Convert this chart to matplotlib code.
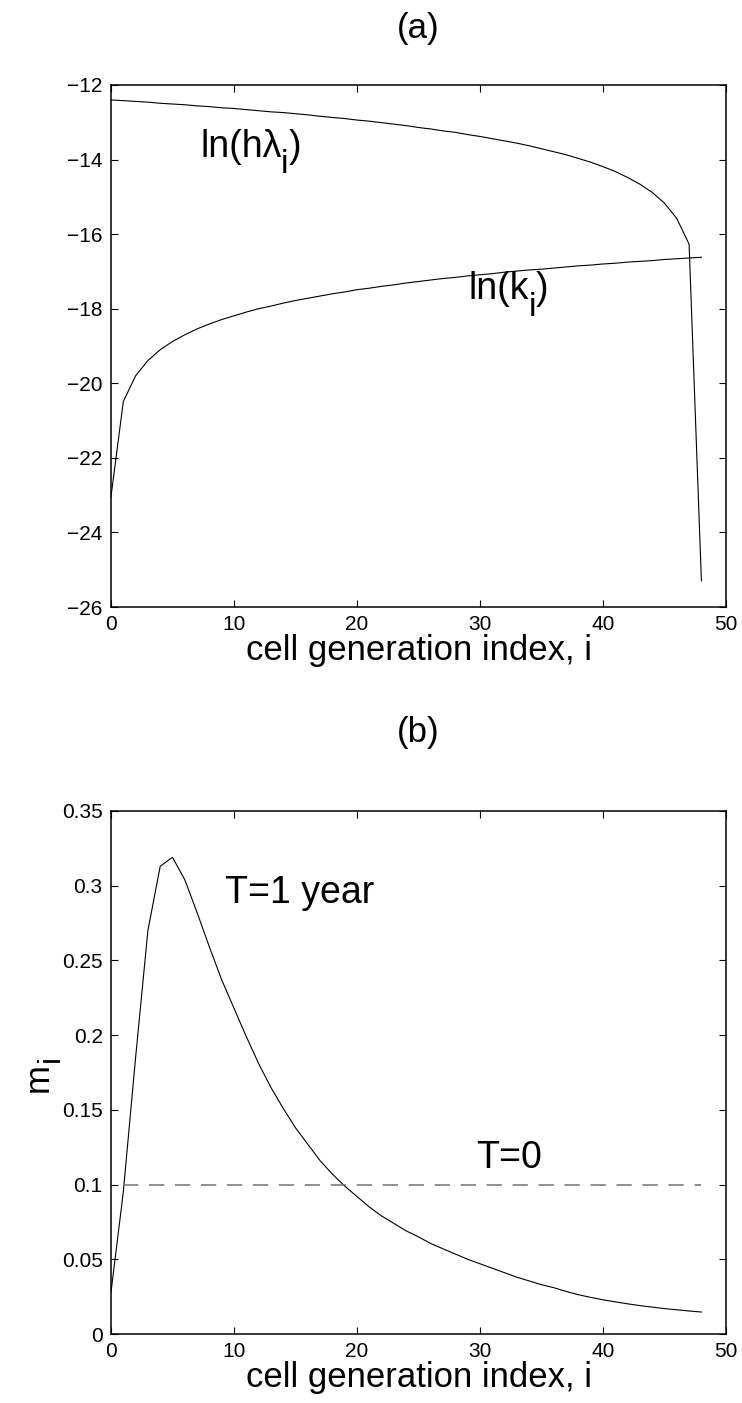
import numpy as np
import matplotlib
matplotlib.use('Agg')
import matplotlib.pyplot as plt
from matplotlib import transforms

plt.rcParams['font.family'] = 'Liberation Sans'

# cell generation index
gen = list(range(49))

# panel (a): ln(h*lambda_i)
ln_h_lambda = [-12.40, -12.42, -12.44, -12.46, -12.49, -12.51, -12.53, -12.56, -12.58, -12.61,
               -12.63, -12.66, -12.69, -12.72, -12.74, -12.77, -12.80, -12.84, -12.87, -12.90,
               -12.94, -12.97, -13.01, -13.05, -13.09, -13.14, -13.18, -13.23, -13.27, -13.33,
               -13.38, -13.44, -13.50, -13.56, -13.63, -13.71, -13.79, -13.87, -13.97, -14.07,
               -14.19, -14.32, -14.48, -14.66, -14.88, -15.17, -15.58, -16.27, -25.30]

# panel (a): ln(k_i)
ln_k = [-23.04, -20.49, -19.80, -19.39, -19.10, -18.88, -18.70, -18.54, -18.41, -18.29,
        -18.19, -18.09, -18.00, -17.93, -17.85, -17.78, -17.72, -17.66, -17.60, -17.55,
        -17.49, -17.45, -17.40, -17.36, -17.31, -17.27, -17.23, -17.19, -17.16, -17.12,
        -17.09, -17.06, -17.02, -16.99, -16.96, -16.94, -16.91, -16.88, -16.85, -16.83,
        -16.80, -16.78, -16.75, -16.73, -16.71, -16.68, -16.66, -16.64, -16.62]

# panel (b): m_i after T=1 year
m_1year = [0.028, 0.095, 0.185, 0.270, 0.313, 0.319, 0.304, 0.282, 0.259, 0.237,
           0.218, 0.199, 0.181, 0.165, 0.151, 0.138, 0.127, 0.116, 0.107, 0.099,
           0.092, 0.085, 0.079, 0.074, 0.069, 0.065, 0.0605, 0.057, 0.0535, 0.050,
           0.047, 0.044, 0.041, 0.038, 0.0355, 0.033, 0.031, 0.0285, 0.0263, 0.0245,
           0.0229, 0.0215, 0.0202, 0.019, 0.018, 0.017, 0.0162, 0.0154, 0.0147]

# panel (b): m_i at T=0 (uniform)
gen_t0 = [1, 48]
m_t0 = [0.1, 0.1]

W, H = 742, 1403
fig = plt.figure(figsize=(W / 100, H / 100), dpi=100)
renderer = fig.canvas.get_renderer()

BIG = 25   # titles and axis labels
NOTE = 27  # curve annotations


def box(l, t, r, b):
    return [l / W, 1 - b / H, (r - l) / W, (b - t) / H]


def style(ax):
    ax.tick_params(direction='in', top=True, right=True, length=5, width=0.8,
                   labelsize=15, pad=6)
    for s in ax.spines.values():
        s.set_linewidth(1.1)
    ax.set_xlim(0, 50)
    ax.set_xticks([0, 10, 20, 30, 40, 50])
    ax.set_xlabel('cell generation index, i', fontsize=BIG, labelpad=0)


def sub_label(ax, x, y, main, sub, tail, size=NOTE):
    # matlab-like subscript: almost full size and dropped below the baseline
    t1 = ax.text(x, y, main, fontsize=size, va='baseline')
    w1 = t1.get_window_extent(renderer).width
    drop = 0.45 * size * fig.dpi / 72
    tr = transforms.offset_copy(ax.transData, fig=fig, x=w1 - 1, y=-drop, units='dots')
    t2 = ax.text(x, y, sub, fontsize=size * 0.9, va='baseline', transform=tr)
    w2 = t2.get_window_extent(renderer).width
    tr = transforms.offset_copy(ax.transData, fig=fig, x=w1 + w2 - 1, y=0, units='dots')
    ax.text(x, y, tail, fontsize=size, va='baseline', transform=tr)


ax1 = fig.add_axes(box(111, 85, 726, 607))
ax1.plot(gen, ln_h_lambda, color='black', lw=0.8)
ax1.plot(gen, ln_k, color='black', lw=0.8)
ax1.set_ylim(-26, -12)
ax1.set_yticks(np.arange(-26, -11, 2))
style(ax1)
ax1.set_title('(a)', fontsize=BIG, pad=34)
sub_label(ax1, 7.3, -13.92, 'ln(h\u03bb', 'i', ')')
sub_label(ax1, 29.1, -17.75, 'ln(k', 'i', ')')

ax2 = fig.add_axes(box(111, 811, 726, 1334))
ax2.plot(gen, m_1year, color='black', lw=0.8)
ax2.plot(gen_t0, m_t0, color='#707070', lw=1.1, dashes=(10, 7))
ax2.set_ylim(0, 0.35)
ax2.set_yticks([0, 0.05, 0.1, 0.15, 0.2, 0.25, 0.3, 0.35])
ax2.set_yticklabels(['0', '0.05', '0.1', '0.15', '0.2', '0.25', '0.3', '0.35'])
style(ax2)
ax2.set_title('(b)', fontsize=BIG, pad=50)
ax2.text(9.3, 0.2948, 'T=1 year', fontsize=NOTE, va='center')
ax2.text(29.7, 0.118, 'T=0', fontsize=NOTE, va='center')

# y label m_i, rotated, with a dropped subscript
fig.text(38 / W, 1 - 1078 / H, 'm', fontsize=BIG, rotation=90, ha='center', va='center')
fig.text(51 / W, 1 - 1059 / H, 'i', fontsize=BIG * 0.9, rotation=90, ha='center', va='center')

fig.savefig('out.png', dpi=100)
